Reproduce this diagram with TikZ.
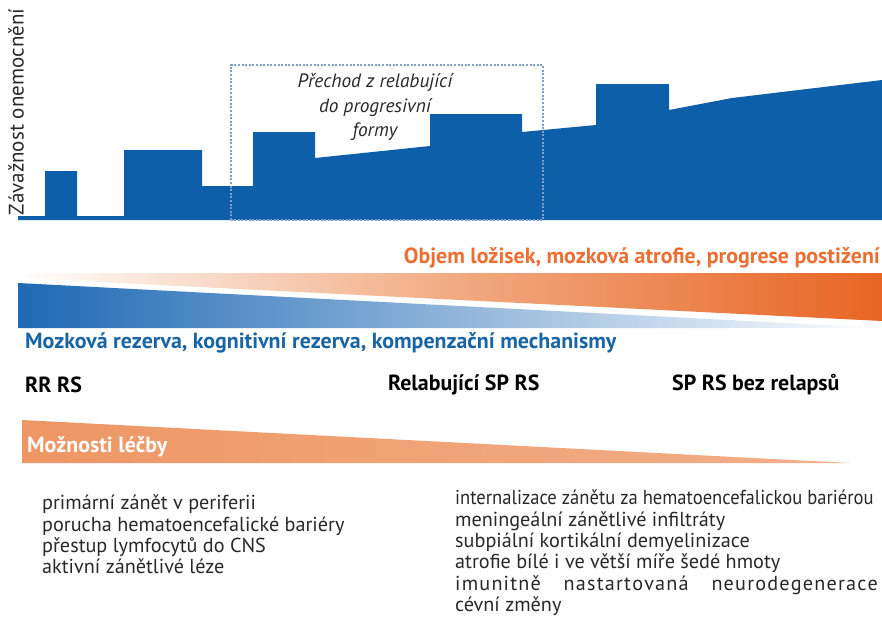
\documentclass[tikz,border=0pt]{standalone}
\usepackage{fontspec}
\setmainfont{PT Sans}
\usetikzlibrary{shadings}
\definecolor{chartblue}{RGB}{14,95,170}
\definecolor{dotblue}{RGB}{130,158,200}
\definecolor{orangedark}{RGB}{232,100,35}
\definecolor{orangemid}{RGB}{238,150,100}
\definecolor{orangetext}{RGB}{236,110,50}
\definecolor{bluedark}{RGB}{30,105,180}
\definecolor{bluetext}{RGB}{25,100,165}
\definecolor{graytext}{RGB}{40,40,40}
\newcommand{\lsp}[1]{\def\lspacc{}\lspX#1\relax}
\def\lspX#1{\ifx#1\relax\else#1\kern1.2pt\expandafter\lspX\fi}
\tikzset{
  lbl/.style={inner sep=0pt, font=\fontsize{21.9}{24}\selectfont\bfseries},
  listtxt/.style={inner sep=0pt, anchor=north west, align=left, text=graytext,
    font=\fontsize{20.2}{21.3}\selectfont},
}
\begin{document}
\begin{tikzpicture}[x=1pt,y=-1pt]
\useasboundingbox (0,0) rectangle (882,616);
\clip (0,0) rectangle (882,616);
% staircase
\fill[chartblue] (18,220) -- (18,216) -- (45,216) -- (45,171) -- (77,171) -- (77,216)
  -- (124,216) -- (124,150) -- (202,150) -- (202,186) -- (253,186) -- (253,132)
  -- (315,132) -- (315,158) -- (430,146) -- (430,114) -- (522,114) -- (522,132)
  -- (596,125) -- (596,84) -- (669,84) -- (669,110) -- (732,98) -- (882,80)
  -- (882,220) -- cycle;
% dotted transition box
\draw[dotblue, line width=2pt, dash pattern=on 2pt off 1.6pt] (231,220) -- (231,65) -- (543,65) -- (543,220) -- cycle;
\node[inner sep=0pt, align=center, text=graytext, font=\fontsize{19.3}{24.5}\selectfont\itshape] (prechod) at (375,107) {Přechod z relabující\\do progresivní\\formy};
% vertical axis label
\node[inner sep=0pt, rotate=90, text=graytext, font=\fontsize{21}{22}\selectfont] (axis) at (16,112) {Závažnost onemocnění};
% orange wedge
\shade[left color=white, right color=orangedark, middle color=orangemid!80!white] (18,273) -- (882,273) -- (882,321) -- (18,278) -- cycle;
% blue wedge
\shade[left color=bluedark, right color=white] (18,283) -- (882,328) -- (18,328) -- cycle;
\node[lbl, text=orangetext, anchor=east] (objem) at (880,258) {Objem ložisek, mozková atrofie, progrese postižení};
\node[lbl, text=bluetext, anchor=west] (mozkova) at (25,343) {Mozková rezerva, kognitivní rezerva, kompenzační mechanismy};
\node[lbl, anchor=west] (rr) at (25,385) {RR RS};
\node[lbl, anchor=west] (relab) at (388,385) {Relabující SP RS};
\node[lbl, anchor=west] (sp) at (672,385) {SP RS bez relapsů};
% treatment wedge
\shade[left color=orangemid, right color=orangemid!75!white] (22,420) -- (850,463) -- (22,463) -- cycle;
\node[lbl, text=white, anchor=west] (lecba) at (27,447) {Možnosti léčby};
% lists
\node[listtxt] (left) at (42,495) {primární zánět v periferii\\porucha hematoencefalické bariéry\\přestup lymfocytů do CNS\\aktivní zánětlivé léze};
\node[listtxt] (right) at (455,490) {\scalebox{0.92}[1]{internalizace zánětu za hematoencefalickou bariérou}\\meningeální zánětlivé infiltráty\\subpiální kortikální demyelinizace\\atrofie bílé i ve větší míře šedé hmoty\\\makebox[424pt][s]{\lsp{imunitně}\hfill\lsp{nastartovaná}\hfill\lsp{neurodegenerace}}\\cévní změny};
\end{tikzpicture}
\end{document}
